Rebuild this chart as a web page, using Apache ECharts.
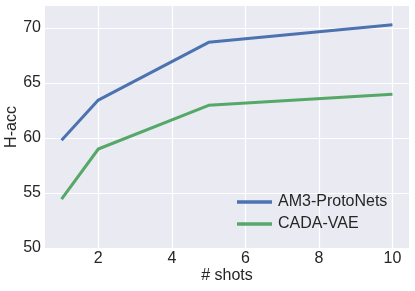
<!DOCTYPE html>
<html>
<head>
<meta charset="utf-8">
<script src="https://cdn.jsdelivr.net/npm/echarts@6/dist/echarts.min.js"></script>
<style>html,body{margin:0;padding:0;background:#fff}#c{width:415px;height:291px}</style>
</head>
<body>
<div id="c"></div>
<script>
const shots = [1, 2, 5, 10];
const am3 = [59.8, 63.45, 68.7, 70.3];
const cada = [54.45, 59.0, 62.97, 63.97];
const xTicks = [2, 4, 6, 8, 10];
const yTicks = [50, 55, 60, 65, 70];

const chart = echarts.init(document.getElementById('c'), null, {renderer: 'canvas'});
const font = 'Liberation Sans, Arial, sans-serif';
chart.setOption({
  animation: false,
  backgroundColor: '#ffffff',
  grid: {left: 45, right: 6, top: 6, bottom: 43, show: true, backgroundColor: '#EAEAF2', borderWidth: 0, containLabel: false, outerBoundsMode: 'none'},
  xAxis: {
    type: 'value', min: 0.55, max: 10.45,
    name: '# shots', nameLocation: 'middle', nameGap: 20, nameMoveOverlap: false,
    nameTextStyle: {fontFamily: font, fontSize: 16, color: '#262626'},
    axisLine: {show: false}, axisTick: {show: false, customValues: xTicks},
    axisLabel: {customValues: xTicks, fontFamily: font, fontSize: 16, color: '#262626', margin: 3},
    splitLine: {show: true, lineStyle: {color: '#ffffff', width: 1.2}}
  },
  yAxis: {
    type: 'value', min: 50, max: 72,
    name: 'H-acc', nameLocation: 'middle', nameGap: 25, nameRotate: 90, nameMoveOverlap: false,
    nameTextStyle: {fontFamily: font, fontSize: 16, color: '#262626'},
    axisLine: {show: false}, axisTick: {show: false, customValues: yTicks},
    axisLabel: {customValues: yTicks, fontFamily: font, fontSize: 16, color: '#262626', margin: 4},
    splitLine: {show: true, lineStyle: {color: '#ffffff', width: 1.2}}
  },
  legend: {
    orient: 'vertical', left: 237, top: 194, padding: 0,
    itemWidth: 35, itemHeight: 3.5, itemGap: 6,
    icon: 'rect',
    textStyle: {fontFamily: font, fontSize: 16, color: '#262626', lineHeight: 16, padding: [0,0,0,1]},
    data: ['AM3-ProtoNets', 'CADA-VAE']
  },
  series: [
    {name: 'AM3-ProtoNets', type: 'line', data: shots.map((s, i) => [s, am3[i]]), showSymbol: false, symbol: 'none',
     lineStyle: {color: '#4C72B0', width: 3}, itemStyle: {color: '#4C72B0'}},
    {name: 'CADA-VAE', type: 'line', data: shots.map((s, i) => [s, cada[i]]), showSymbol: false, symbol: 'none',
     lineStyle: {color: '#55A868', width: 3}, itemStyle: {color: '#55A868'}}
  ]
});
</script>
</body>
</html>
